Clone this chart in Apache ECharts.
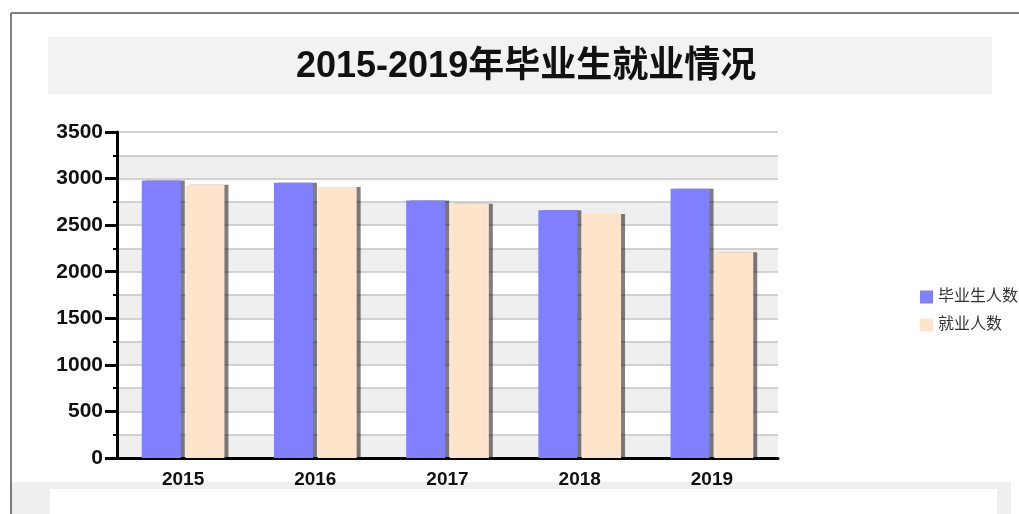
<!DOCTYPE html>
<html>
<head>
<meta charset="utf-8">
<script src="https://cdn.jsdelivr.net/npm/echarts@6/dist/echarts.min.js"></script>
<style>
  html, body { margin: 0; padding: 0; background: #fff; }
  #chart { width: 1019px; height: 514px; }
</style>
</head>
<body>
<div id="chart"></div>
<script>
// 年份
var years = ['2015', '2016', '2017', '2018', '2019']
// 毕业生人数
var graduates = [2980, 2955, 2765, 2660, 2890]
// 就业人数
var employed = [2935, 2910, 2730, 2620, 2210]
var seriesNames = ['毕业生人数', '就业人数']

var chart = echarts.init(document.getElementById('chart'))
var barShadow = {
  shadowColor: 'rgba(0,0,0,0.5)',
  shadowOffsetX: 4,
  shadowOffsetY: 0,
  shadowBlur: 0
}
var option = {
  animation: false,
  textStyle: { fontFamily: 'Liberation Sans, Noto Sans CJK SC, sans-serif' },
  graphic: [
    { type: 'line', shape: { x1: 11, y1: 13, x2: 1019, y2: 13 }, style: { stroke: '#555', lineWidth: 1.5 } },
    { type: 'line', shape: { x1: 11, y1: 13, x2: 11, y2: 514 }, style: { stroke: '#555', lineWidth: 1.5 } },
    { type: 'rect', shape: { x: 48, y: 37, width: 944, height: 57 }, style: { fill: '#f2f2f2' }, z: -1 },
    { type: 'rect', shape: { x: 11, y: 482, width: 1000, height: 32 }, style: { fill: '#efefef' }, z: -1 },
    { type: 'rect', shape: { x: 50, y: 489, width: 947, height: 25 }, style: { fill: '#ffffff' }, z: -1 }
  ],
  title: {
    text: '2015-2019年毕业生就业情况',
    left: 291,
    top: 44,
    textStyle: {
      fontSize: 36,
      fontWeight: 'bold',
      color: '#111',
      fontFamily: 'Liberation Sans, Noto Sans CJK SC, sans-serif'
    }
  },
  legend: {
    data: seriesNames,
    orient: 'vertical',
    left: 915,
    top: 284,
    icon: 'rect',
    itemWidth: 13,
    itemHeight: 13,
    itemGap: 12,
    textStyle: { fontSize: 16, color: '#333' }
  },
  grid: {
    left: 117,
    right: 241,
    top: 132,
    bottom: 56
  },
  xAxis: {
    type: 'category',
    data: years,
    axisLine: { lineStyle: { color: '#000', width: 3 } },
    axisTick: { lineStyle: { color: '#000', width: 2 }, length: 6 },
    axisLabel: { fontSize: 19, fontWeight: 'bold', color: '#111', margin: 12 }
  },
  yAxis: [
    {
      type: 'value',
      min: 0,
      max: 3500,
      interval: 500,
      axisLine: { show: true, lineStyle: { color: '#000', width: 3 } },
      axisTick: { show: true, length: 12, lineStyle: { color: '#000', width: 3 } },
      minorTick: { show: true, splitNumber: 2, length: 4, lineStyle: { color: '#000', width: 2 } },
      axisLabel: {
        fontSize: 21,
        fontWeight: 'bold',
        color: '#111',
        margin: 14,
        formatter: function (v) { return String(v) }
      },
      splitLine: { show: false }
    },
    {
      // 只用来画 250 间隔的网格线和间隔色块
      type: 'value',
      min: 0,
      max: 3500,
      interval: 250,
      position: 'left',
      axisLine: { show: false },
      axisTick: { show: false },
      axisLabel: { show: false },
      splitLine: { show: true, lineStyle: { color: '#c4c4c4', width: 1.5 } },
      splitArea: { show: true, areaStyle: { color: ['#efefef', '#ffffff'] } }
    }
  ],
  series: [
    {
      name: seriesNames[0],
      type: 'bar',
      data: graduates,
      barWidth: 39,
      barGap: '12%',
      itemStyle: Object.assign({ color: '#8080ff' }, barShadow)
    },
    {
      name: seriesNames[1],
      type: 'bar',
      data: employed,
      barWidth: 39,
      barGap: '12%',
      itemStyle: Object.assign({ color: '#ffe4cc' }, barShadow)
    }
  ]
}
chart.setOption(option)
window.addEventListener('resize', () => {
  chart.resize()
})
</script>
</body>
</html>
